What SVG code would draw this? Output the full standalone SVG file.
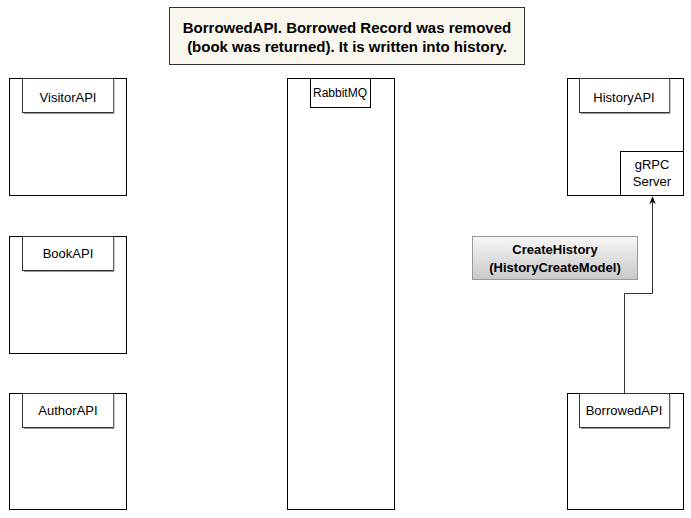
<svg xmlns="http://www.w3.org/2000/svg" width="691" height="518" viewBox="0 0 691 518">
<style>
.outer{fill:#fff;stroke:#000;stroke-width:1}
.hdr{fill:#fff;stroke:#333;stroke-width:1}
.shadow{fill:none;stroke:#999;stroke-width:1}
.lbl{font-family:"Liberation Sans",Arial,sans-serif;font-size:13px;fill:#000;text-anchor:middle}
.bold{font-weight:bold}
</style>
<defs>
<linearGradient id="g" x1="0" y1="0" x2="0" y2="1">
<stop offset="0" stop-color="#f7f7f7"/>
<stop offset="1" stop-color="#c8c8c8"/>
</linearGradient>
<marker id="arr" viewBox="0 0 10 10" refX="9" refY="5" markerWidth="8" markerHeight="8" orient="auto">
<path d="M0,1 L10,5 L0,9 L3,5 z" fill="#000"/>
</marker>
</defs>
<rect width="691" height="518" fill="#fff"/>
<g id="title">
<rect x="169.5" y="7.5" width="355" height="57" fill="#f9f7ed" stroke="#333"/>
<text class="lbl bold" x="347" y="33" style="font-size:15px">BorrowedAPI. Borrowed Record was removed</text>
<text class="lbl bold" x="347" y="52" style="font-size:15px">(book was returned). It is written into history.</text>
</g>
<g id="visitor">
<rect class="outer" x="9.5" y="78.5" width="117" height="117"/>
<rect class="hdr" x="22.5" y="78.5" width="91" height="34"/>
<path class="shadow" d="M114,80 V113.5 H24"/>
<text class="lbl" x="68" y="102">VisitorAPI</text>
</g>
<g id="book">
<rect class="outer" x="9.5" y="236.5" width="117" height="117"/>
<rect class="hdr" x="22.5" y="236.5" width="91" height="34"/>
<path class="shadow" d="M114,238 V271.5 H24"/>
<text class="lbl" x="68" y="258">BookAPI</text>
</g>
<g id="author">
<rect class="outer" x="9.5" y="393.5" width="117" height="116"/>
<rect class="hdr" x="22.5" y="393.5" width="91" height="34"/>
<path class="shadow" d="M114,395 V428.5 H24"/>
<text class="lbl" x="68" y="415">AuthorAPI</text>
</g>
<g id="rabbit">
<rect class="outer" x="287.5" y="78.5" width="107" height="431"/>
<rect class="outer" x="310.5" y="78.5" width="60" height="29"/>
<text class="lbl" x="340" y="97" style="font-size:12px">RabbitMQ</text>
</g>
<g id="history">
<rect class="outer" x="567.5" y="78.5" width="116" height="117"/>
<rect class="hdr" x="579.5" y="78.5" width="90" height="34"/>
<path class="shadow" d="M670,80 V113.5 H581"/>
<text class="lbl" x="624" y="102">HistoryAPI</text>
<rect class="outer" x="620.5" y="151.5" width="63" height="44"/>
<text class="lbl" x="652" y="169">gRPC</text>
<text class="lbl" x="652" y="186">Server</text>
</g>
<g id="borrowed">
<rect class="outer" x="567.5" y="393.5" width="116" height="116"/>
<rect class="hdr" x="579.5" y="393.5" width="90" height="34"/>
<path class="shadow" d="M670,395 V428.5 H581"/>
<text class="lbl" x="624" y="415">BorrowedAPI</text>
</g>
<g id="connectors">
<path d="M624.5,393 V293.5 H652.5 V197" fill="none" stroke="#333" stroke-width="1" marker-end="url(#arr)"/>
</g>
<g id="createhistory">
<rect x="472.5" y="236.5" width="165" height="43" fill="url(#g)" stroke="#999"/>
<text class="lbl bold" x="555" y="254">CreateHistory</text>
<text class="lbl bold" x="555" y="272">(HistoryCreateModel)</text>
</g>
</svg>
